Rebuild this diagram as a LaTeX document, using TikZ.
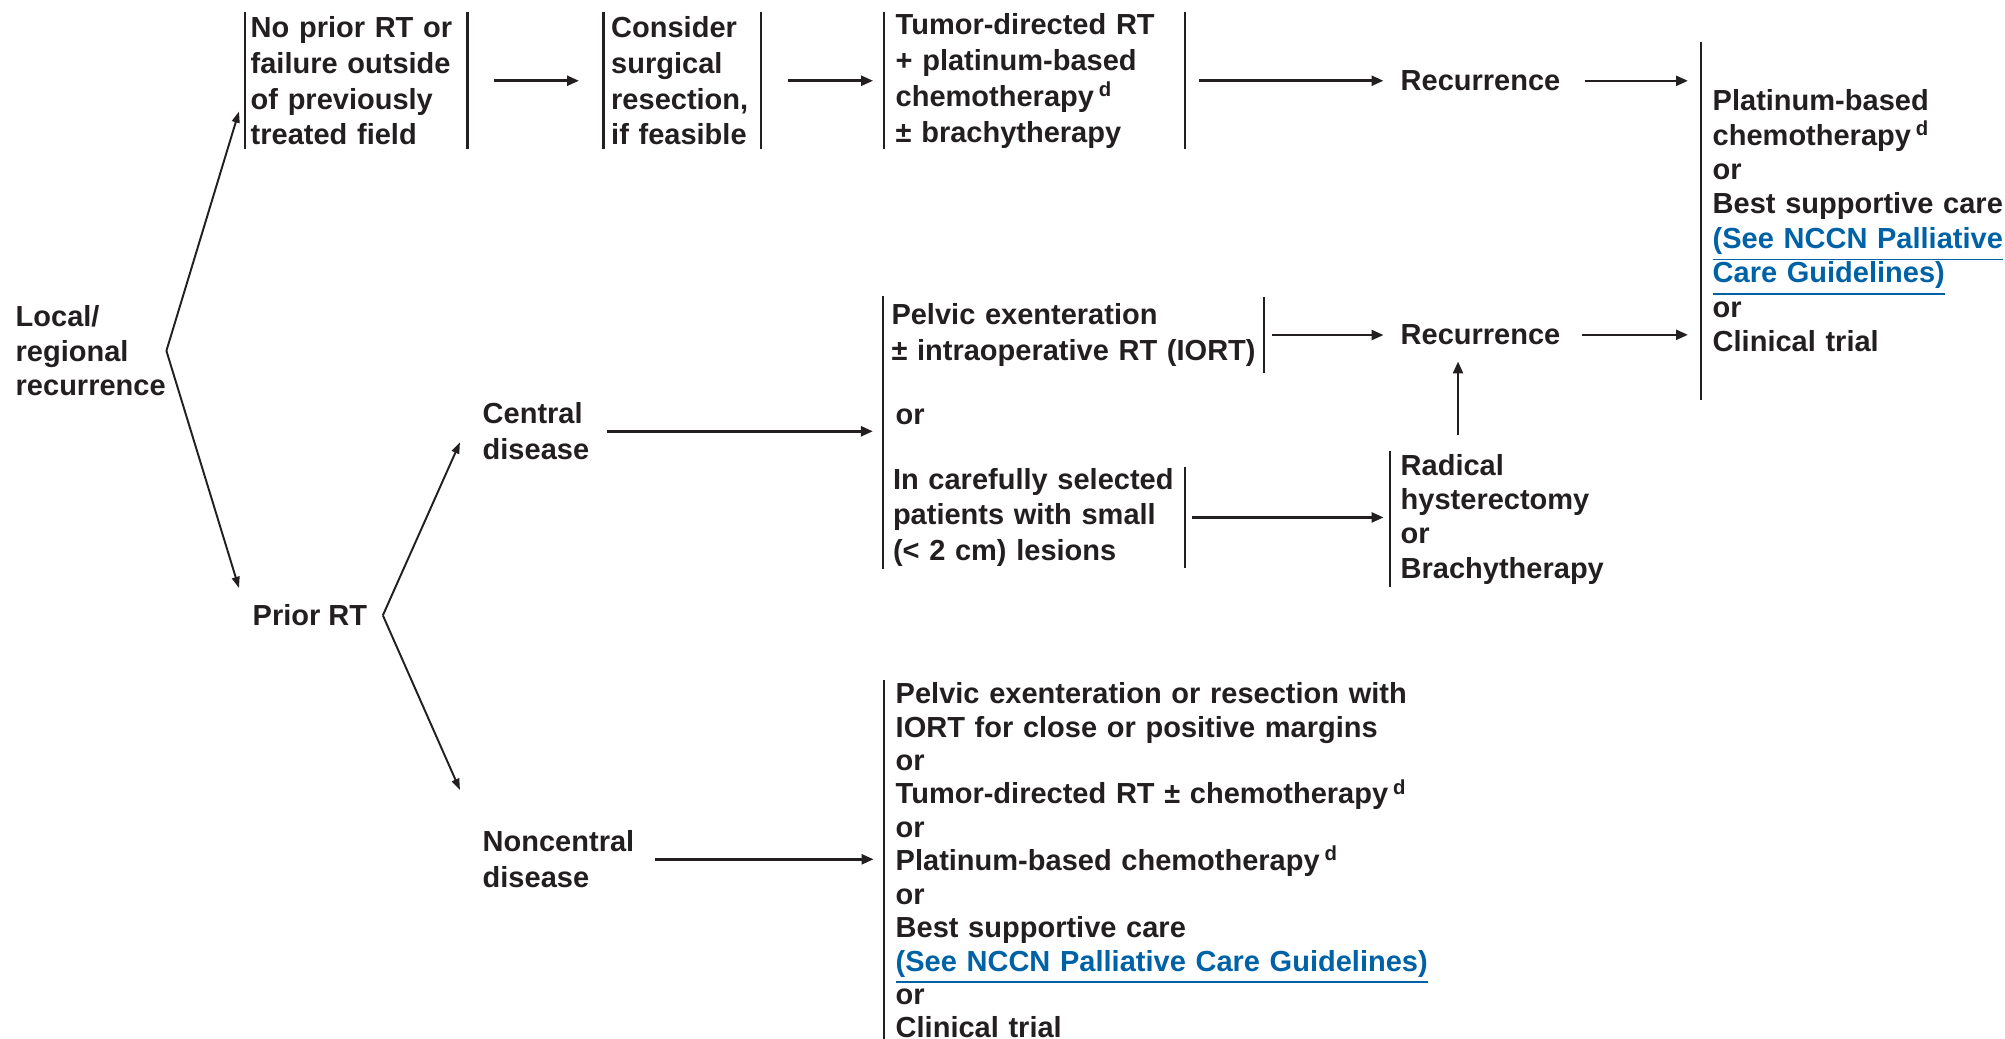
\documentclass[tikz,border=0pt]{standalone}
\usepackage{fontspec}
\setmainfont{Liberation Sans}
\usepackage{tikz}
\usetikzlibrary{arrows.meta, fit, calc}

\definecolor{ink}{RGB}{35,31,32}
\definecolor{nccnblue}{RGB}{0,98,166}
\newcommand{\nccnlink}[1]{\textcolor{nccnblue}{\underline{#1}}}
\newcommand{\supd}{\,\textsuperscript{d}}

\begin{document}
\begin{tikzpicture}[x=0.01cm, y=-0.01cm,
    every node/.style={inner sep=0pt, text=ink, font=\fontsize{8.25}{9.8}\selectfont\bfseries},
    tall/.style={font=\fontsize{8.25}{10.2}\selectfont\bfseries},
    txt/.style={anchor=north west, align=left},
    brk/.style={anchor=north west, align=left},
    bar/.style={line width=0.6pt, draw=ink},
    lbar/.style={append after command={(\tikzlastnode.north west) edge[bar] (\tikzlastnode.south west)}},
    rbar/.style={append after command={(\tikzlastnode.north east) edge[bar] (\tikzlastnode.south east)}},
    arr/.style={-{Triangle[length=3.4pt, width=2.8pt]}, line width=0.75pt, draw=ink},
    thinarr/.style={-{Triangle[length=3.2pt, width=2.2pt]}, line width=0.55pt, draw=ink}]
    \useasboundingbox (0,0) rectangle (2005,1039);

    % left column
    \node[txt] (local) at (15,305) {Local/\\regional\\recurrence};
    \node[txt] (prior) at (252,604) {Prior RT};
    \node[txt, tall] (central) at (482,402) {Central\\disease};
    \node[txt, tall] (noncen) at (482,830) {Noncentral\\disease};

    % top row
    \node[brk, lbar, rbar, tall, text width=2.11cm, inner xsep=0.05cm, minimum height=1.36cm] (b1) at (245,12)
        {No prior RT or\\failure outside\\of previously\\treated field};
    \node[brk, lbar, rbar, tall, text width=1.42cm, inner xsep=0.07cm, minimum height=1.36cm] (b2) at (603.5,12)
        {Consider\\surgical\\resection,\\if feasible};
    \node[brk, lbar, rbar, tall, text width=2.766cm, inner xsep=0.114cm, minimum height=1.36cm] (b3) at (883.6,12)
        {Tumor-directed RT\\+ platinum-based\\chemotherapy\supd\\± brachytherapy};
    \node[txt] (rec1) at (1400,70) {Recurrence};
    \node[brk, lbar, text width=3.1cm, inner xsep=0.113cm, minimum height=3.56cm] (palbox) at (1700.7,42)
        {Platinum-based\\chemotherapy\supd\\or\\Best supportive care\\\nccnlink{(See NCCN Palliative}\\\nccnlink{Care Guidelines)}\\or\\Clinical trial};

    % central disease
    \node[brk, rbar, tall, text width=3.64cm, inner xsep=0.072cm, minimum height=0.754cm] (pelA) at (883.6,296.6)
        {Pelvic exenteration\\± intraoperative RT (IORT)};
    \node[txt] (orc) at (895,408) {or};
    \node[brk, rbar, tall, text width=2.82cm, inner xsep=0.087cm, minimum height=1.0cm] (small) at (883.6,466.7)
        {In carefully selected\\patients with small\\(< 2 cm) lesions};
    \node[fit=(pelA)(small), inner sep=0pt, lbar] (cgroup) {};
    \node[txt] (rec2) at (1400,324) {Recurrence};
    \node[brk, lbar, text width=2.1cm, inner xsep=0.1cm, minimum height=1.35cm] (radical) at (1390,451)
        {Radical\\hysterectomy\\or\\Brachytherapy};

    % noncentral disease
    \node[brk, lbar, text width=5.4cm, inner xsep=0.114cm, inner ysep=0.02cm, font=\fontsize{8.25}{9.5}\selectfont\bfseries] (ncbox) at (883.6,680)
        {Pelvic exenteration or resection with\\IORT for close or positive margins\\or\\Tumor-directed RT ± chemotherapy\supd\\or\\Platinum-based chemotherapy\supd\\or\\Best supportive care\\\nccnlink{(See NCCN Palliative Care Guidelines)}\\or\\Clinical trial};

    % branches
    \draw[thinarr] (local.east) -- ([xshift=-0.06cm, yshift=0.38cm]b1.south west);
    \draw[thinarr] (local.east) -- ([xshift=-0.13cm, yshift=0.16cm]prior.north west);
    \draw[thinarr] ([xshift=0.15cm]prior.east) -- ([xshift=-0.22cm, yshift=-0.11cm]central.west);
    \draw[thinarr] ([xshift=0.15cm]prior.east) -- ([xshift=-0.22cm, yshift=0.40cm]noncen.north west);

    % top row arrows
    \draw[arr, shorten <=0.26cm, shorten >=0.245cm] (b1.east) -- (b2.west);
    \draw[arr, shorten <=0.265cm, shorten >=0.105cm] (b2.east) -- (b3.west);
    \draw[arr, shorten <=0.14cm, shorten >=0.165cm] (b3.east) -- (b3.east -| rec1.west);
    \draw[arr, shorten <=0.24cm, shorten >=0.127cm] (rec1.east) -- (rec1.east -| palbox.west);

    % central disease arrows
    \draw[arr, shorten <=0.17cm, shorten >=0.1cm] (central.east) -- (central.east -| cgroup.west);
    \draw[arr, shorten <=0.08cm, shorten >=0.164cm] (pelA.east) -- (pelA.east -| rec2.west);
    \draw[arr, shorten <=0.21cm, shorten >=0.127cm] (rec2.east) -- (rec2.east -| palbox.west);
    \draw[arr, shorten <=0.075cm, shorten >=0.064cm] (small.east) -- (small.east -| radical.west);
    \draw[arr, shorten <=0.155cm, shorten >=0.158cm] ([xshift=0.68cm]radical.north west) -- ([xshift=0.68cm]radical.north west |- rec2.south);

    % noncentral disease arrow
    \draw[arr, shorten <=0.2cm, shorten >=0.1cm] (noncen.east) -- (noncen.east -| ncbox.west);
\end{tikzpicture}
\end{document}
